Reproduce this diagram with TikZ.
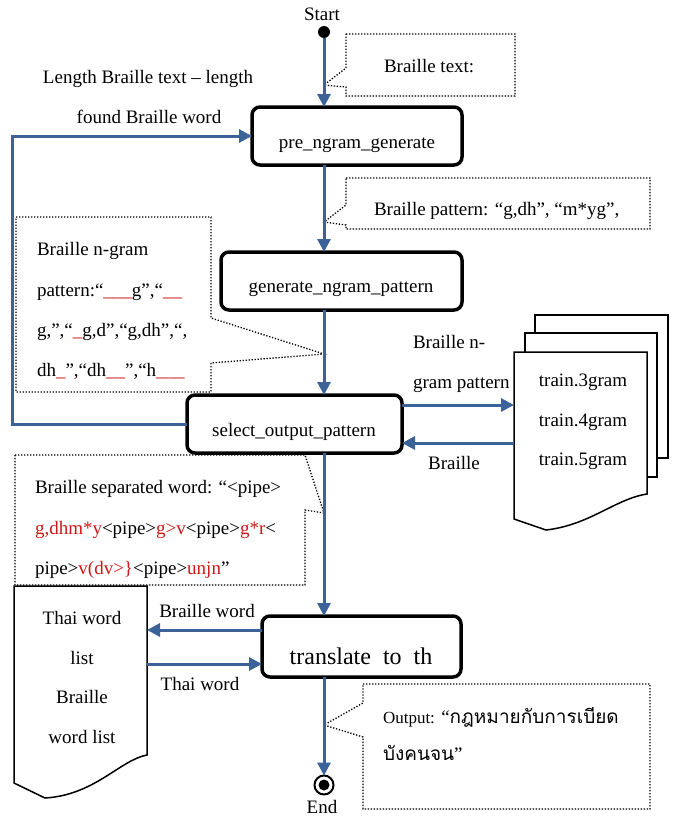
\documentclass[tikz,border=0pt]{standalone}
\usepackage{fontspec}
\setmainfont{Liberation Serif}
\newfontfamily\thaifont[Script=Thai]{Loma}
\usetikzlibrary{arrows.meta}
\definecolor{flowblue}{RGB}{59,99,152}
\definecolor{hilite}{RGB}{204,24,24}
\newcommand{\hl}[1]{\textcolor{hilite}{#1}}
\begin{document}
\begin{tikzpicture}[x=1pt,y=-1pt,
  every node/.style={font=\fontsize{19}{23}\selectfont, inner sep=0pt, outer sep=0pt},
  txt/.style={anchor=base},
  txtw/.style={anchor=base west},
  stepbox/.style={draw=black, line width=3.5pt, rounded corners=8pt, fill=white},
  flow/.style={draw=flowblue, line width=3pt, -{Triangle[length=13pt,width=13pt]}},
  note/.style={draw=black, line width=1.3pt, dash pattern=on 1.3pt off 1.7pt},
  doc/.style={draw=black, line width=1.5pt, fill=white},
]
\useasboundingbox (0,0) rectangle (676,816);

% ---------- points on the main flow line ----------
\coordinate (p1) at (324,85);
\coordinate (p2) at (324,222);
\coordinate (p3) at (324,354);
\coordinate (p4) at (324,513);
\coordinate (p5) at (324,725);

% ---------- dotted annotation callouts ----------
\draw[note] (346,34) -- (515,34) -- (515,96) -- (346,96) -- (346,87) -- (p1) -- (346,68) -- cycle;
\draw[note] (346,178) -- (650,178) -- (650,229) -- (346,229) -- (346,225) -- (p2) -- (346,205) -- cycle;
\draw[note] (16,217) -- (211,217) -- (211,318) -- (p3) -- (211,363) -- (211,392) -- (16,392) -- cycle;
\draw[note] (15,455) -- (305,455) -- (p4) -- (305,510) -- (305,585) -- (15,585) -- cycle;
\draw[note] (363,684) -- (650,684) -- (650,809) -- (363,809) -- (363,737) -- (p5) -- (363,703) -- cycle;

% ---------- process boxes ----------
\node[stepbox, minimum width=210pt, minimum height=58pt] (pre) at (357,136) {};
\node[stepbox, minimum width=241pt, minimum height=58pt] (gen) at (341.5,281) {};
\node[stepbox, minimum width=215pt, minimum height=58pt] (sel) at (294.5,424) {};
\node[stepbox, minimum width=199pt, minimum height=61pt] (tr) at (361.5,646.5) {};

\node[txt] (preT) at (357,148) {pre\_ngram\_generate};
\node[txt] (genT) at (341,292) {generate\_ngram\_pattern};
\node[txt] (selT) at (294,436) {select\_output\_pattern};
\node[txt, font=\fontsize{24}{28}\selectfont] (trT) at (361,664) {translate~~to~~th};

% ---------- start / end ----------
\node[circle, fill=black, minimum size=12pt] (start) at (324,32) {};
\node[txt] (startT) at (322,21) {Start};
\node[circle, draw=black, line width=2pt, minimum size=19pt] (end) at (324,785) {};
\fill[black] (end.center) circle (5.5);
\node[txt] (endT) at (322,813) {End};

% ---------- n-gram files (stacked documents) ----------
\draw[doc] (535,315) rectangle (668,458);
\draw[doc] (525,333) rectangle (657,477);
\coordinate (ngdoc) at (514,352);
\draw[doc] (ngdoc) -- (647,352) -- (647,494)
  .. controls (615,499) and (590,525) .. (546,530) -- (514,519) -- cycle;
\node[txt] (g3) at (583,386) {train.3gram};
\node[txt] (g4) at (583,426) {train.4gram};
\node[txt] (g5) at (583,465) {train.5gram};

% ---------- word list document ----------
\coordinate (twdoc) at (147,586);
\draw[doc] (14,586) -- (twdoc) -- (147,755)
  .. controls (120,760) and (95,795) .. (45,798) -- (14,783) -- cycle;
\node[txt] (tw1) at (82,624) {Thai word};
\node[txt] (tw2) at (82,664) {list};
\node[txt] (tw3) at (82,703) {Braille};
\node[txt] (tw4) at (82,743) {word list};

% ---------- connectors ----------
\draw[flow] (start) -- (start |- pre.north);
\draw[flow] (start |- pre.south) -- (start |- gen.north);
\draw[flow] (start |- gen.south) -- (start |- sel.north);
\draw[flow] (start |- sel.south) -- (start |- tr.north);
\draw[flow] (start |- tr.south) -- (end);

\coordinate (loopA) at (12,424);
\coordinate (loopB) at (12,136);
\draw[flow] (sel.west) -- (loopA) -- (loopB) -- (pre.west);

\coordinate (yA) at (0,405);
\coordinate (yB) at (0,443);
\draw[flow] (sel.east |- yA) -- (ngdoc |- yA);
\draw[flow] (ngdoc |- yB) -- (sel.east |- yB);

\coordinate (yC) at (0,630);
\coordinate (yD) at (0,664);
\draw[flow] (tr.west |- yC) -- (twdoc |- yC);
\draw[flow] (twdoc |- yD) -- (tr.west |- yD);

% ---------- connector labels ----------
\node[txt] (lenA) at (148,84) {Length Braille text – length};
\node[txt] (lenB) at (149,123) {found Braille word};
\node[txtw] (bnA) at (413,348) {Braille n-};
\node[txtw] (bnB) at (413,388) {gram pattern};
\node[txt] (brl) at (454,469) {Braille};
\node[txt] (bw) at (207,617) {Braille word};
\node[txt] (tw) at (200,690) {Thai word};

% ---------- callout texts ----------
\node[txtw] (n1) at (384,73) {Braille text:};
\node[txtw] (n2) at (374,215) {Braille pattern: “g,dh”, “m*yg”,};

\node[txtw] (n3a) at (37,255) {Braille n-gram};
\node[txtw] (n3b) at (37,296) {pattern:“\hl{\_\_\_}g”,“\hl{\_\_}};
\node[txtw] (n3c) at (37,336) {g,”,“\hl{\_}g,d”,“g,dh”,“,};
\node[txtw] (n3d) at (37,376) {dh\hl{\_}”,“dh\hl{\_\_}”,“h\hl{\_\_\_}};

\node[txtw] (n4a) at (35,493) {Braille separated word: “<pipe>};
\node[txtw] (n4b) at (35,534) {\hl{g,dhm*y}<pipe>\hl{g>v}<pipe>\hl{g*r}<};
\node[txtw] (n4c) at (35,574) {pipe>\hl{v(dv>\}}<pipe>\hl{unjn}”};

\node[txtw] (n5a) at (383,723) {{\fontsize{17}{20}\selectfont Output:} “{\thaifont\fontsize{19}{23}\selectfont กฎหมายกับการเบียด}};
\node[txtw] (n5b) at (383,760) {{\thaifont\fontsize{19}{23}\selectfont บังคนจน}”};
\end{tikzpicture}
\end{document}
